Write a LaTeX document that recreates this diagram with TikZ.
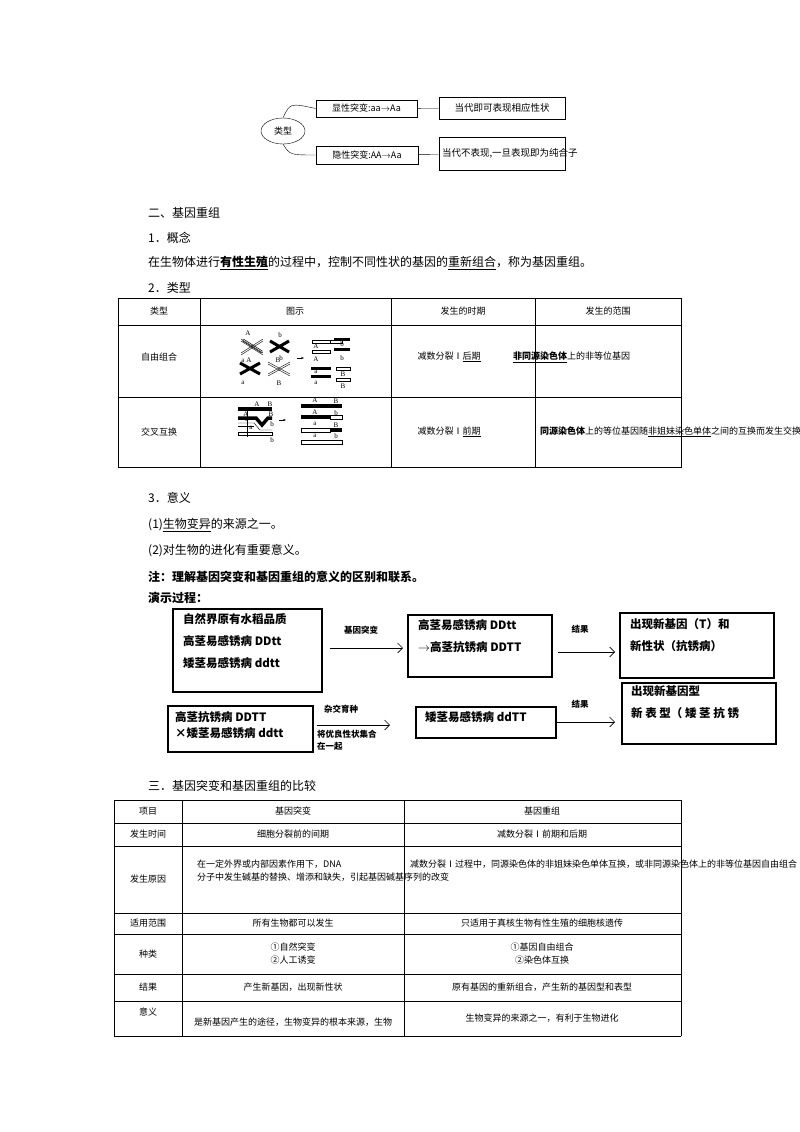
\documentclass[tikz,border=0pt]{standalone}
\usepackage{fontspec}
\setmainfont{Liberation Serif}
\newfontfamily\cjk{Noto Sans CJK SC}
\usetikzlibrary{shapes.geometric,arrows.meta}
\begin{document}
\begin{tikzpicture}[x=1pt,y=-1pt,
  txt/.style={anchor=west,inner sep=0pt,font=\cjk\fontsize{12}{14}\selectfont},
  tb/.style={inner sep=0pt,font=\cjk\fontsize{9}{13}\selectfont,align=center},
  fl/.style={inner sep=0pt,font=\cjk\bfseries\fontsize{11.5}{22}\selectfont,align=left,anchor=north west},
  bx/.style={draw,line width=0.6pt},
  fbx/.style={draw,line width=1.1pt},
  arr/.style={-{Straight Barb[length=5pt]},line width=0.6pt},
  chw/.style={draw,line width=0.5pt,fill=white,rounded corners=1.5pt},
  chb/.style={fill=black,rounded corners=1.5pt}]
\useasboundingbox (0,0) rectangle (800,1132);
% top diagram
\node[draw,ellipse,minimum width=44,minimum height=26,inner sep=0pt,font=\cjk\fontsize{9}{10}\selectfont] (lx) at (283,131) {类型};
\node[bx,minimum width=101,minimum height=17,inner sep=0pt,font=\cjk\fontsize{9}{10}\selectfont] (b1) at (366.5,108.5) {显性突变:aa$\to$Aa};
\node[bx,minimum width=126,minimum height=22,inner sep=0pt,font=\cjk\fontsize{9.5}{10}\selectfont] (b2) at (502,108) {当代即可表现相应性状};
\node[bx,minimum width=102,minimum height=18,inner sep=0pt,font=\cjk\fontsize{9}{10}\selectfont] (b3) at (367,155) {隐性突变:AA$\to$Aa};
\node[bx,minimum width=126,minimum height=33,inner sep=2pt,text width=120,align=left,font=\cjk\fontsize{9.5}{12}\selectfont] (b4) at (502,153.5) {当代不表现,一旦表现即为纯合子};
\draw (lx.north) .. controls (290,103) .. (b1.west);
\draw (lx.south) .. controls (290,155) .. (b3.west);
\draw (b1) -- (b2); \draw (b3) -- (b4);
% section 2
\node[txt] (s2) at (148,213) {二、基因重组};
\node[txt] (s21) at (148,238) {1．概念};
\node[txt] (s22) at (148,263) {在生物体进行\underline{\textbf{有性生殖}}的过程中，控制不同性状的基因的\underline{重新组合}，称为基因重组。};
\node[txt] (s23) at (148,288) {2．类型};
% table 1
\draw[line width=0.5pt] (118,298) rectangle (681,467);
\foreach \x in {200,391,535} \draw (\x,298) -- (\x,467);
\foreach \y in {325,397} \draw (118,\y) -- (681,\y);
\node[tb] (t1a) at (159,311) {类型};
\node[tb] (t1b) at (295,311) {图示};
\node[tb] (t1c) at (463,311) {发生的时期};
\node[tb] (t1d) at (608,311) {发生的范围};
\node[tb] (t1e) at (159,357) {自由组合};
\node[tb] (t1f) at (159,432) {交叉互换};
\node[tb] (t1g) at (449,357) {减数分裂Ⅰ\underline{后期}};
\node[tb] (t1h) at (449,432) {减数分裂Ⅰ\underline{前期}};
\node[tb,anchor=west] (t1i) at (513,357) {\textbf{\underline{非同源染色体}}上的非等位基因};
\node[tb,text width=136] (t1j) at (608,432) {\textbf{同源染色体}上的等位基因随\underline{非姐妹染色单体}之间的互换而发生交换};
% free combination sketch
\begin{scope}[font=\fontsize{7}{7}\selectfont]
\draw[line width=2.2pt,white,double=black,double distance=0pt] (0,0);
\draw[line width=2.5pt] (243,340) -- (262,352); \draw[line width=1.2pt,white] (243,340) -- (262,352);
\draw (241,339) -- (263,353) (241,341) -- (263,355);
\draw (241,353) -- (263,339) (241,355) -- (263,341);
\draw[line width=3pt] (270,341) -- (289,352) (270,352) -- (289,341);
\draw[line width=3pt] (240,363) -- (260,374) (240,374) -- (260,363);
\draw (268,362) -- (290,374) (268,364) -- (290,376) (268,374) -- (290,362) (268,376) -- (290,364);
\node (fA1) at (248,333) {A}; \node (fA2) at (249,360) {A};
\node (fb1) at (280,335) {b}; \node (fb2) at (281,358) {b};
\node (fa1) at (243,361) {a}; \node (fa2) at (243,383) {a};
\node (fB1) at (278,360) {B}; \node (fB2) at (279,383) {B};
\draw[arr,-{Stealth[length=3pt]}] (297,358) -- (304,358);
\draw (312,340) rectangle (330,343); \draw (322,340) -- (342,340) -- (342,343) -- (322,343);
\draw[line width=3pt] (334,339) -- (350,339) (334,349) -- (350,349);
\draw[line width=3pt] (311,368) -- (331,368) (311,376) -- (331,376);
\draw (336,367) rectangle (350,370); \draw (336,378) rectangle (350,381);
\draw (312,350) rectangle (330,353);
\node (rA1) at (316,346) {A}; \node (rA2) at (316,359) {A};
\node (rb1) at (342,344) {b}; \node (rb2) at (342,358) {b};
\node (ra1) at (316,372) {a}; \node (ra2) at (316,383) {a};
\node (rB1) at (343,374) {B}; \node (rB2) at (343,386) {B};
% crossing over sketch
\draw[line width=3.5pt] (238,409) -- (272,409);
\draw[line width=3.5pt] (238,418) -- (256,418) -- (262,425) -- (268,418) -- (272,418);
\draw (238,423) -- (254,423) -- (260,430) -- (272,430); \draw (238,426) -- (254,426);
\draw (238,432) rectangle (272,435);
\draw (247,407) -- (247,437);
\node (cA1) at (257,404) {A}; \node (cB1) at (270,404) {B};
\node (cA2) at (246,414) {A}; \node (cB2) at (271,414) {B};
\node (ca1) at (247,420) {a}; \node (cb1) at (272,424) {b};
\node (ca2) at (251,428) {a}; \node (cb2) at (272,440) {b};
\draw[-{Stealth[length=3pt]}] (279,420) -- (286,420);
\draw[line width=3.5pt] (301,406) -- (342,406);
\draw[line width=3.5pt] (301,417) -- (330,417); \draw (330,415) rectangle (342,419);
\draw (301,428) rectangle (330,432); \draw[line width=3.5pt] (330,430) -- (342,430);
\draw (301,440) rectangle (342,444);
\node (dA1) at (315,400) {A}; \node (dB1) at (336,401) {B};
\node (dA2) at (315,412) {A}; \node (db1) at (336,413) {b};
\node (da1) at (315,424) {a}; \node (dB2) at (336,425) {B};
\node (da2) at (315,436) {a}; \node (db2) at (336,436) {b};
\end{scope}
% section 3
\node[txt] (m1) at (148,498) {3．意义};
\node[txt] (m2) at (148,525) {(1)\underline{生物变异}的来源之一。};
\node[txt] (m3) at (148,551) {(2)对生物的进化有重要意义。};
\node[txt,font=\cjk\bfseries\fontsize{12}{14}\selectfont] (m4) at (148,577) {注：理解基因突变和基因重组的意义的区别和联系。};
\node[txt,font=\cjk\bfseries\fontsize{12}{14}\selectfont] (m5) at (148,598) {演示过程：};
% flow
\draw[fbx] (173,609) rectangle (322,692);
\node[fl] (fa) at (183,613) {自然界原有水稻品质\\高茎易感锈病 DDtt\\矮茎易感锈病 ddtt};
\draw[fbx] (408,615) rectangle (552,677);
\node[fl] (fb) at (418,619) {高茎易感锈病 DDtt\\$\to$高茎抗锈病 DDTT};
\draw[fbx] (620,613) rectangle (774,678);
\node[fl] (fc) at (630,618) {出现新基因（T）和\\新性状（抗锈病）};
\draw[fbx] (168,706) rectangle (313,752);
\node[fl,font=\cjk\bfseries\fontsize{11.5}{16}\selectfont] (fd) at (175,711) {高茎抗锈病 DDTT\\×矮茎易感锈病 ddtt};
\draw[fbx] (416,707) rectangle (556,738);
\node[fl] (fe) at (425,711) {矮茎易感锈病 ddTT};
\draw[fbx] (622,683) rectangle (776,744);
\node[fl] (ff) at (631,685) {出现新基因型\\新 表 型（ 矮 茎 抗 锈};
\coordinate (a1s) at (330,648); \coordinate (a1e) at (403,648);
\coordinate (a2s) at (558,652); \coordinate (a2e) at (615,652);
\coordinate (a3s) at (317,725); \coordinate (a3e) at (390,725);
\coordinate (a4s) at (557,722); \coordinate (a4e) at (615,722);
\draw[arr] (a1s) -- (a1e); \draw[arr] (a2s) -- (a2e);
\draw[arr] (a3s) -- (a3e); \draw[arr] (a4s) -- (a4e);
\begin{scope}[every node/.style={inner sep=0pt,font=\cjk\bfseries\fontsize{8.5}{12}\selectfont,align=left}]
\node (l1) at (361,630) {基因突变};
\node (l2) at (580,629) {结果};
\node (l3) at (341,709) {杂交育种};
\node[anchor=north west] (l4) at (317,730) {将优良性状集合\\在一起};
\node (l5) at (580,704) {结果};
\end{scope}
% section 4
\node[txt] (s4) at (148,786) {三．基因突变和基因重组的比较};
\draw[line width=0.5pt] (114,800) -- (681,800) -- (681,1036) (114,1036) -- (114,800);
\foreach \x in {182,404} \draw (\x,800) -- (\x,1036);
\foreach \y in {823,846,913,934,974,1001} \draw (114,\y) -- (681,\y);
\draw (114,1036) -- (681,1036);
\node[tb] (r1a) at (148,811) {项目};
\node[tb] (r1b) at (293,811) {基因突变};
\node[tb] (r1c) at (542,811) {基因重组};
\node[tb] (r2a) at (148,834) {发生时间};
\node[tb] (r2b) at (293,834) {细胞分裂前的间期};
\node[tb] (r2c) at (542,834) {减数分裂Ⅰ前期和后期};
\node[tb] (r3a) at (148,879) {发生原因};
\node[tb,align=left,anchor=north west,text width=210] (r3b) at (197,860) {在一定外界或内部因素作用下，DNA 分子中发生碱基的替换、增添和缺失，引起基因碱基序列的改变};
\node[tb,align=left,anchor=north west,text width=270] (r3c) at (410,860) {减数分裂Ⅰ过程中，同源染色体的非姐妹染色单体互换，或非同源染色体上的非等位基因自由组合};
\node[tb] (r4a) at (148,923) {适用范围};
\node[tb] (r4b) at (293,923) {所有生物都可以发生};
\node[tb] (r4c) at (542,923) {只适用于真核生物有性生殖的细胞核遗传};
\node[tb] (r5a) at (148,954) {种类};
\node[tb] (r5b) at (293,954) {①自然突变\\②人工诱变};
\node[tb] (r5c) at (542,954) {①基因自由组合\\②染色体互换};
\node[tb] (r6a) at (148,987) {结果};
\node[tb] (r6b) at (293,987) {产生新基因，出现新性状};
\node[tb] (r6c) at (542,987) {原有基因的重新组合，产生新的基因型和表型};
\node[tb] (r7a) at (148,1012) {意义};
\node[tb] (r7b) at (293,1022) {是新基因产生的途径，生物变异的根本来源，生物};
\node[tb] (r7c) at (542,1018) {生物变异的来源之一，有利于生物进化};
\end{tikzpicture}
\end{document}
